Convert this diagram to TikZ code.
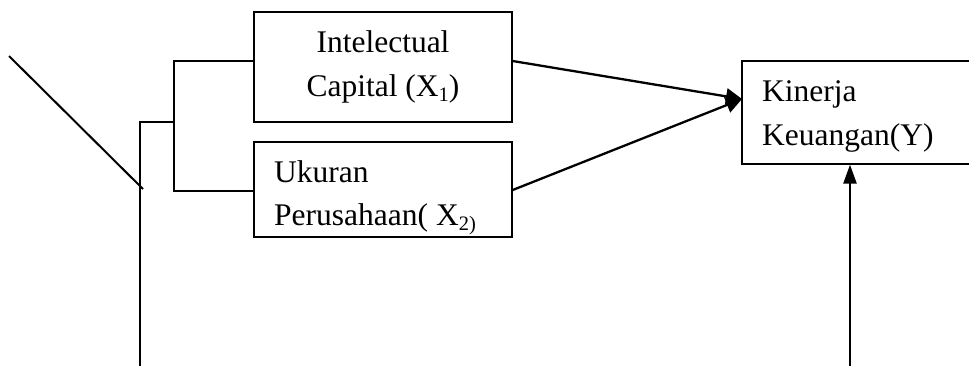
\documentclass[tikz,border=0pt]{standalone}
\usepackage{fontspec}
\setmainfont{Liberation Serif}
\usetikzlibrary{arrows.meta}
% subscript as set in the labels
\newcommand\lowsub[1]{\raisebox{-0.16em}{\fontsize{20.5}{22}\selectfont #1}}
\begin{document}
\begin{tikzpicture}[x=1pt,y=-1pt,
  box/.style={draw, line width=1.4pt, rectangle, inner sep=0pt},
  lbl/.style={inner sep=0pt, font=\fontsize{31.5}{40}\selectfont},
  link/.style={line width=2pt},
  arr/.style={line width=2.3pt, -{Triangle[length=16pt,width=16pt]}},
  uparr/.style={line width=2.3pt, -{Triangle[length=19pt,width=13pt]}}]
  \clip (0,0) rectangle (969,365);
  \useasboundingbox (0,0) rectangle (969,365);

  % boxes
  \node[box, minimum width=258pt, minimum height=110pt] (x1) at (383,67) {};
  \node[box, minimum width=258pt, minimum height=95pt] (x2) at (383,189.5) {};
  \node[box, line width=1.2pt, minimum width=300pt, minimum height=103pt] (y) at (892,112.5) {};

  % labels
  \node[lbl, anchor=base] (x1a) at (383,52) {Intelectual};
  \node[lbl, anchor=base] (x1b) at (383,96) {Capital (X\lowsub{1})};
  \node[lbl, anchor=base west] (x2a) at (274,182) {Ukuran};
  \node[lbl, anchor=base west] (x2b) at (274,225) {Perusahaan( X\lowsub{2)}};
  \node[lbl, anchor=base west] (ya) at (762,101) {Kinerja};
  \node[lbl, anchor=base west] (yb) at (762,145) {Keuangan(Y)};

  % bracket joining the two inputs
  \coordinate (b1) at (174,61);
  \coordinate (b2) at (174,191);
  \draw[link] (x1.west |- b1) -- (b1) -- (b2) -- (x2.west |- b2);

  % trunk from below
  \coordinate (t) at (140,122);
  \coordinate (tb) at (140,380);
  \draw[link] (tb) -- (t) -- (t -| b1);

  % slanted stroke
  \coordinate (d1) at (9,56);
  \coordinate (d2) at (143,189);
  \draw[link] (d1) -- (d2);

  % arrows into the outcome box
  \coordinate (tip) at (742,99);
  \draw[arr] (x1.east |- b1) -- (tip);
  \coordinate (s2) at (512,190);
  \draw[arr] (x2.east |- s2) -- (tip);
  \coordinate (u) at (850,380);
  \draw[uparr] (u) -- (u |- y.south);
\end{tikzpicture}
\end{document}
